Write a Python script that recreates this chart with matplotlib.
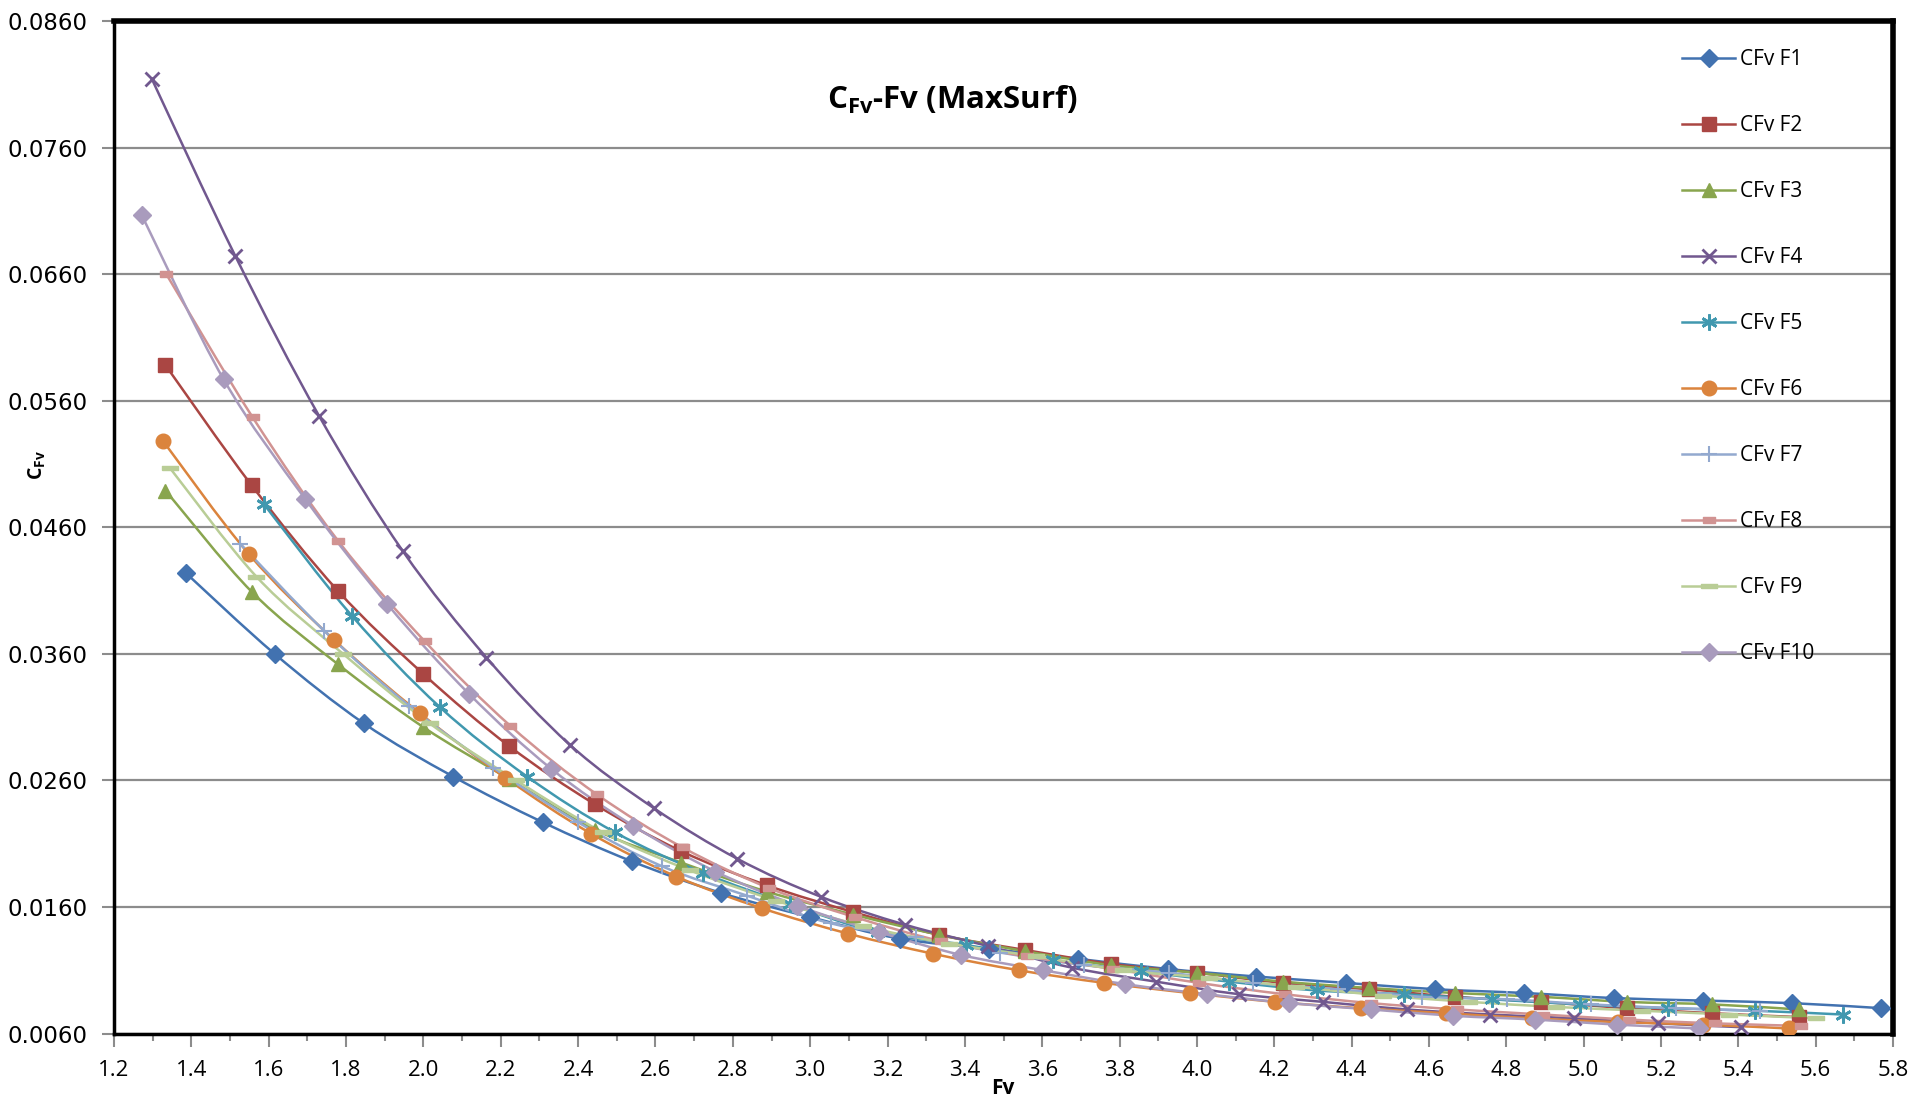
import matplotlib
matplotlib.use('Agg')
import matplotlib.pyplot as plt
from matplotlib.path import Path
from matplotlib.patches import PathPatch
from matplotlib.lines import Line2D
from matplotlib.ticker import MultipleLocator, FormatStrFormatter

plt.rcParams['mathtext.fontset'] = 'custom'
plt.rcParams['mathtext.rm'] = 'Open Sans'
plt.rcParams['mathtext.bf'] = 'Open Sans:bold'

# values
f1_x = [1.385, 1.615, 1.846, 2.077, 2.308, 2.539, 2.770, 3.000, 3.231, 3.462,
        3.693, 3.924, 4.154, 4.385, 4.616, 4.847, 5.078, 5.308, 5.539, 5.770]
f1_y = [0.0424, 0.0360, 0.0305, 0.0263, 0.0227, 0.0196, 0.0171, 0.0152, 0.0135, 0.0127,
        0.0119, 0.0111, 0.0105, 0.0100, 0.0095, 0.0092, 0.0088, 0.0086, 0.0084, 0.0080]

f2_x = [1.333, 1.556, 1.778, 2.000, 2.222, 2.444, 2.667, 2.889, 3.111, 3.333,
        3.556, 3.778, 4.000, 4.222, 4.444, 4.667, 4.889, 5.111, 5.333, 5.556]
f2_y = [0.0588, 0.0493, 0.0410, 0.0344, 0.0287, 0.0241, 0.0204, 0.0177, 0.0156, 0.0138,
        0.0126, 0.0115, 0.0108, 0.0100, 0.0095, 0.0089, 0.0085, 0.0080, 0.0076, 0.0073]

f3_x = [1.333, 1.556, 1.778, 2.000, 2.222, 2.444, 2.667, 2.889, 3.111, 3.333,
        3.556, 3.778, 4.000, 4.222, 4.444, 4.667, 4.889, 5.111, 5.333, 5.556]
f3_y = [0.0489, 0.0409, 0.0352, 0.0302, 0.0261, 0.0221, 0.0195, 0.0172, 0.0154, 0.0138,
        0.0125, 0.0114, 0.0108, 0.0101, 0.0096, 0.0092, 0.0089, 0.0085, 0.0083, 0.0079]

f4_x = [1.298, 1.514, 1.730, 1.947, 2.163, 2.379, 2.596, 2.812, 3.028, 3.245,
        3.461, 3.677, 3.894, 4.110, 4.326, 4.543, 4.759, 4.975, 5.192, 5.408]
f4_y = [0.0814, 0.0674, 0.0548, 0.0441, 0.0357, 0.0288, 0.0238, 0.0198, 0.0168, 0.0146,
        0.0129, 0.0112, 0.0101, 0.0091, 0.0085, 0.0079, 0.0075, 0.0072, 0.0068, 0.0065]

f5_x = [1.588, 1.815, 2.042, 2.268, 2.495, 2.722, 2.948, 3.175, 3.402, 3.629,
        3.856, 4.083, 4.310, 4.536, 4.763, 4.990, 5.217, 5.444, 5.670]
f5_y = [0.0478, 0.0390, 0.0318, 0.0263, 0.0219, 0.0187, 0.0162, 0.0140, 0.0130, 0.0118,
        0.0109, 0.0101, 0.0094, 0.0091, 0.0087, 0.0083, 0.0080, 0.0078, 0.0075]

f6_x = [1.327, 1.548, 1.769, 1.991, 2.212, 2.433, 2.654, 2.875, 3.097, 3.318,
        3.539, 3.760, 3.982, 4.203, 4.424, 4.645, 4.866, 5.088, 5.309, 5.530]
f6_y = [0.0528, 0.0439, 0.0371, 0.0313, 0.0262, 0.0218, 0.0184, 0.0159, 0.0139, 0.0123,
        0.0110, 0.0100, 0.0092, 0.0085, 0.0080, 0.0076, 0.0072, 0.0069, 0.0067, 0.0064]

f7_x = [1.526, 1.744, 1.963, 2.181, 2.399, 2.618, 2.836, 3.054, 3.273, 3.491,
        3.709, 3.928, 4.146, 4.364, 4.583, 4.801, 5.019, 5.238, 5.456]
f7_y = [0.0447, 0.0378, 0.0319, 0.0270, 0.0227, 0.0192, 0.0169, 0.0147, 0.0136, 0.0124,
        0.0114, 0.0108, 0.0100, 0.0095, 0.0089, 0.0087, 0.0083, 0.0080, 0.0078]

f8_x = [1.335, 1.558, 1.780, 2.003, 2.225, 2.448, 2.670, 2.893, 3.115, 3.338,
        3.560, 3.783, 4.005, 4.228, 4.450, 4.673, 4.895, 5.118, 5.340, 5.563]
f8_y = [0.0660, 0.0547, 0.0449, 0.0370, 0.0303, 0.0249, 0.0207, 0.0175, 0.0152, 0.0133,
        0.0121, 0.0111, 0.0100, 0.0091, 0.0084, 0.0079, 0.0075, 0.0071, 0.0068, 0.0066]

f9_x = [1.344, 1.568, 1.792, 2.016, 2.240, 2.464, 2.688, 2.912, 3.136, 3.360,
        3.584, 3.808, 4.032, 4.256, 4.480, 4.704, 4.928, 5.152, 5.376, 5.600]
f9_y = [0.0507, 0.0421, 0.0360, 0.0305, 0.0260, 0.0219, 0.0189, 0.0165, 0.0145, 0.0131,
        0.0121, 0.0110, 0.0104, 0.0097, 0.0090, 0.0085, 0.0081, 0.0078, 0.0075, 0.0072]

f10_x = [1.271, 1.483, 1.695, 1.907, 2.119, 2.331, 2.543, 2.755, 2.967, 3.179,
         3.391, 3.603, 3.815, 4.027, 4.239, 4.451, 4.663, 4.875, 5.087, 5.299]
f10_y = [0.0707, 0.0577, 0.0482, 0.0399, 0.0328, 0.0269, 0.0224, 0.0188, 0.0161, 0.0140,
         0.0122, 0.0110, 0.0099, 0.0091, 0.0084, 0.0079, 0.0074, 0.0071, 0.0067, 0.0064]

labels = ['CFv F1', 'CFv F2', 'CFv F3', 'CFv F4', 'CFv F5',
          'CFv F6', 'CFv F7', 'CFv F8', 'CFv F9', 'CFv F10']
y_ticks = [0.0060, 0.0160, 0.0260, 0.0360, 0.0460, 0.0560, 0.0660, 0.0760, 0.0860]

# excel 2007 style series looks
rect = [(-1, -0.55), (1, -0.55), (1, 0.55), (-1, 0.55), (-1, -0.55)]
dash = [(-1, -0.28), (1, -0.28), (1, 0.28), (-1, 0.28), (-1, -0.28)]
styles = [
    ('#4272B0', 'D', 9, 1.0),
    ('#AA4643', 's', 10.5, 1.0),
    ('#89A54E', '^', 10.5, 1.0),
    ('#71588F', 'x', 10.5, 2.0),
    ('#4198AF', (6, 2, 0), 11.5, 2.0),
    ('#DB843D', 'o', 10.5, 1.0),
    ('#93A9CF', '+', 12, 1.5),
    ('#D19392', rect, 8, 1.0),
    ('#B9CD96', dash, 11, 1.0),
    ('#A99BBD', 'D', 9, 1.0),
]

series = [(f1_x, f1_y), (f2_x, f2_y), (f3_x, f3_y), (f4_x, f4_y), (f5_x, f5_y),
          (f6_x, f6_y), (f7_x, f7_y), (f8_x, f8_y), (f9_x, f9_y), (f10_x, f10_y)]


def smooth_path(x, y):
    # catmull-rom through the points, drawn as bezier segments like excel's smoothed line
    verts = [(x[0], y[0])]
    codes = [Path.MOVETO]
    n = len(x)
    for i in range(n - 1):
        x0, y0 = (x[i - 1], y[i - 1]) if i > 0 else (x[i], y[i])
        x3, y3 = (x[i + 2], y[i + 2]) if i + 2 < n else (x[i + 1], y[i + 1])
        c1 = (x[i] + (x[i + 1] - x0) / 6, y[i] + (y[i + 1] - y0) / 6)
        c2 = (x[i + 1] - (x3 - x[i]) / 6, y[i + 1] - (y3 - y[i]) / 6)
        verts += [c1, c2, (x[i + 1], y[i + 1])]
        codes += [Path.CURVE4] * 3
    return Path(verts, codes)


fig = plt.figure(figsize=(19.17, 11.03), dpi=100)
ax = fig.add_axes([0.0595, 0.063, 0.928, 0.918])

handles = []
for (x, y), lab, (c, m, ms, mew) in zip(series, labels, styles):
    ax.add_patch(PathPatch(smooth_path(x, y), fill=False, edgecolor=c, lw=1.8, zorder=3))
    ax.plot(x, y, linestyle='none', marker=m, ms=ms, mew=mew, color=c, mec=c, zorder=4)
    handles.append(Line2D([], [], color=c, lw=1.8, marker=m, ms=ms, mew=mew, mec=c))

ax.set_xlim(1.2, 5.8)
ax.set_ylim(0.006, 0.086)
ax.xaxis.set_major_locator(MultipleLocator(0.2))
ax.xaxis.set_minor_locator(MultipleLocator(0.1))
ax.set_yticks(y_ticks)
ax.xaxis.set_major_formatter(FormatStrFormatter('%.1f'))
ax.yaxis.set_major_formatter(FormatStrFormatter('%.4f'))
ax.grid(axis='y', color='#8c8c8c', lw=1.6, zorder=1)
ax.tick_params(axis='both', which='major', direction='out', length=9, width=1.5,
               color='#8c8c8c', labelcolor='black', pad=10)
ax.tick_params(axis='x', which='minor', direction='out', length=5, width=1.5, color='#8c8c8c')
ax.tick_params(axis='y', labelsize=16.5, pad=10)
ax.tick_params(axis='x', labelsize=16)
for t in ax.get_yticklabels():
    t.set_family('DejaVu Sans')
for t in ax.get_xticklabels():
    t.set_family('Open Sans')
for side in ['top', 'right']:
    ax.spines[side].set_linewidth(4)
for side in ['left', 'bottom']:
    ax.spines[side].set_linewidth(2.5)

fig.text(952 / 1917, 1 - 100 / 1103, r'$\mathbf{C_{Fv}}$-Fv (MaxSurf)', ha='center', va='center',
         fontsize=22.5, fontweight='bold', family='Open Sans')
fig.text(1003 / 1917, 1 - 1088 / 1103, 'Fv', ha='center', va='center',
         fontsize=15, fontweight='bold', family='Open Sans')
fig.text(37 / 1917, 1 - 465 / 1103, r'$\mathbf{C_{Fv}}$', ha='center', va='center',
         rotation='vertical', fontsize=14)

ax.legend(handles, labels, loc='upper left', bbox_to_anchor=(1682 / 1917, 1 - 49 / 1103),
          bbox_transform=fig.transFigure, frameon=False, numpoints=1,
          prop={'family': 'Open Sans', 'size': 15}, labelspacing=2.16,
          handlelength=2.55, handletextpad=0.25, borderpad=0, borderaxespad=0)

fig.savefig('out.png', dpi=100)
